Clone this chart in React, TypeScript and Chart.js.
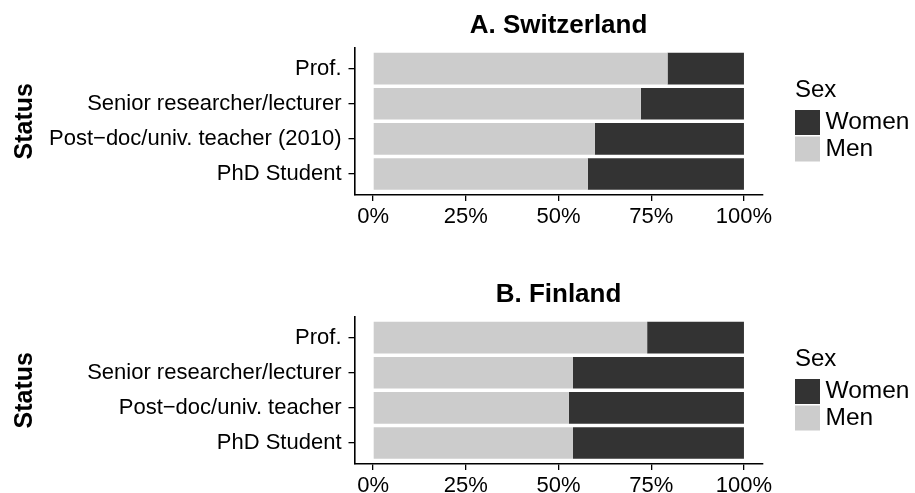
import React, { useEffect, useRef } from "react";
import { Chart, registerables } from "chart.js";

Chart.register(...registerables);

// ---------- data ----------
const seriesNames = ["Men", "Women"];
const legendTitle = "Sex";
const axisTitle = "Status";
const xTickValues = [0, 0.25, 0.5, 0.75, 1];
const xTickLabels = ["0%", "25%", "50%", "75%", "100%"];

const chTitle = "A. Switzerland";
const chCategories = [
  "Prof.",
  "Senior researcher/lecturer",
  "Post\u2212doc/univ. teacher (2010)",
  "PhD Student",
];
const chMen = [0.794, 0.722, 0.598, 0.579];
const chWomen = [0.206, 0.278, 0.402, 0.421];

const fiTitle = "B. Finland";
const fiCategories = [
  "Prof.",
  "Senior researcher/lecturer",
  "Post\u2212doc/univ. teacher",
  "PhD Student",
];
const fiMen = [0.739, 0.539, 0.528, 0.539];
const fiWomen = [0.261, 0.461, 0.472, 0.461];

// ---------- styling ----------
const MEN_COLOR = "#CCCCCC";
const WOMEN_COLOR = "#333333";
const FONT = "'Liberation Sans', Arial, Helvetica, sans-serif";
const W = 915;
const AREA_TOP = 47.6;
const AREA_BOTTOM = 195;
const AREA_LEFT = 354.5;
const AREA_RIGHT = 762.5;
const TICK_FONT = 22;

type PanelProps = {
  title: string;
  categories: string[];
  men: number[];
  women: number[];
  top: number;
  height: number;
};

function Panel({ title, categories, men, women, top, height }: PanelProps) {
  const ref = useRef<HTMLCanvasElement>(null);

  useEffect(() => {
    const canvas = ref.current;
    if (!canvas) return;

    const decor = {
      id: "panelDecor",
      afterDraw(chart: any) {
        const { ctx, chartArea } = chart;
        const cx = (chartArea.left + chartArea.right) / 2;
        const cy = (chartArea.top + chartArea.bottom) / 2;
        ctx.save();
        ctx.fillStyle = "#000";
        ctx.textBaseline = "middle";
        // title
        ctx.textAlign = "center";
        ctx.font = `bold 26px ${FONT}`;
        ctx.fillText(title, cx, chartArea.top - 22);
        // legend
        ctx.textAlign = "left";
        ctx.font = `24px ${FONT}`;
        ctx.fillText(legendTitle, 795, cy - 31);
        const entries = [
          { label: seriesNames[1], color: WOMEN_COLOR },
          { label: seriesNames[0], color: MEN_COLOR },
        ];
        ctx.font = `24.5px ${FONT}`;
        entries.forEach((e, i) => {
          const by = cy - 11.3 + i * 26.5;
          ctx.fillStyle = e.color;
          ctx.fillRect(795, by, 25, 25);
          ctx.fillStyle = "#000";
          ctx.fillText(e.label, 825.5, by + 12.5);
        });
        ctx.restore();
      },
    };

    const chart = new Chart(canvas, {
      type: "bar",
      data: {
        datasets: [
          {
            label: seriesNames[0],
            data: men.map((v, i) => ({ x: v, y: i + 1 })),
            backgroundColor: MEN_COLOR,
            borderWidth: 0,
          },
          {
            label: seriesNames[1],
            data: women.map((v, i) => ({ x: v, y: i + 1 })),
            backgroundColor: WOMEN_COLOR,
            borderWidth: 0,
          },
        ],
      },
      options: {
        indexAxis: "y",
        responsive: false,
        animation: false,
        barPercentage: 0.9,
        categoryPercentage: 1,
        layout: {
          padding: { top: AREA_TOP, right: W - AREA_RIGHT, bottom: 0, left: 0 },
        },
        plugins: {
          legend: { display: false },
          title: { display: false },
          tooltip: { enabled: false },
        },
        scales: {
          x: {
            type: "linear",
            stacked: true,
            offset: false,
            min: -0.05,
            max: 1.05,
            afterBuildTicks: (s: any) => {
              s.ticks = xTickValues.map((v) => ({ value: v }));
            },
            afterFit: (s: any) => {
              s.height = height - AREA_BOTTOM;
            },
            ticks: {
              callback: (_v: any, i: number) => xTickLabels[i],
              color: "#000",
              font: { family: FONT, size: TICK_FONT },
              padding: 3,
              maxRotation: 0,
              autoSkip: false,
            },
            grid: {
              offset: false,
              drawOnChartArea: false,
              drawTicks: true,
              tickLength: 6,
              color: "#000",
              lineWidth: 1.3,
            },
            border: { display: true, color: "#000", width: 1.6 },
          },
          y: {
            type: "linear",
            stacked: true,
            reverse: true,
            offset: false,
            min: 0.4,
            max: 4.6,
            afterBuildTicks: (s: any) => {
              s.ticks = categories.map((_c, i) => ({ value: i + 1 }));
            },
            afterFit: (s: any) => {
              s.width = AREA_LEFT;
            },
            ticks: {
              callback: (_v: any, i: number) => categories[i],
              color: "#000",
              font: { family: FONT, size: TICK_FONT },
              padding: 7,
              autoSkip: false,
            },
            title: {
              display: true,
              text: axisTitle,
              color: "#000",
              font: { family: FONT, size: 25, weight: "bold" },
              padding: { top: 10.5, bottom: 0 },
            },
            grid: {
              offset: false,
              drawOnChartArea: false,
              drawTicks: true,
              tickLength: 6,
              color: "#000",
              lineWidth: 1.3,
            },
            border: { display: true, color: "#000", width: 1.6 },
          },
        },
      } as any,
      plugins: [decor],
    });

    return () => chart.destroy();
  }, [title, categories, men, women, top, height]);

  return (
    <canvas
      ref={ref}
      width={W}
      height={height}
      style={{ position: "absolute", left: 0, top, width: W, height, display: "block" }}
    />
  );
}

export default function App() {
  return (
    <div
      style={{
        position: "absolute",
        left: 0,
        top: 0,
        width: W,
        height: 493,
        background: "#fff",
        overflow: "hidden",
      }}
    >
      <Panel title={chTitle} categories={chCategories} men={chMen} women={chWomen} top={0} height={269} />
      <Panel title={fiTitle} categories={fiCategories} men={fiMen} women={fiWomen} top={269} height={224} />
    </div>
  );
}
